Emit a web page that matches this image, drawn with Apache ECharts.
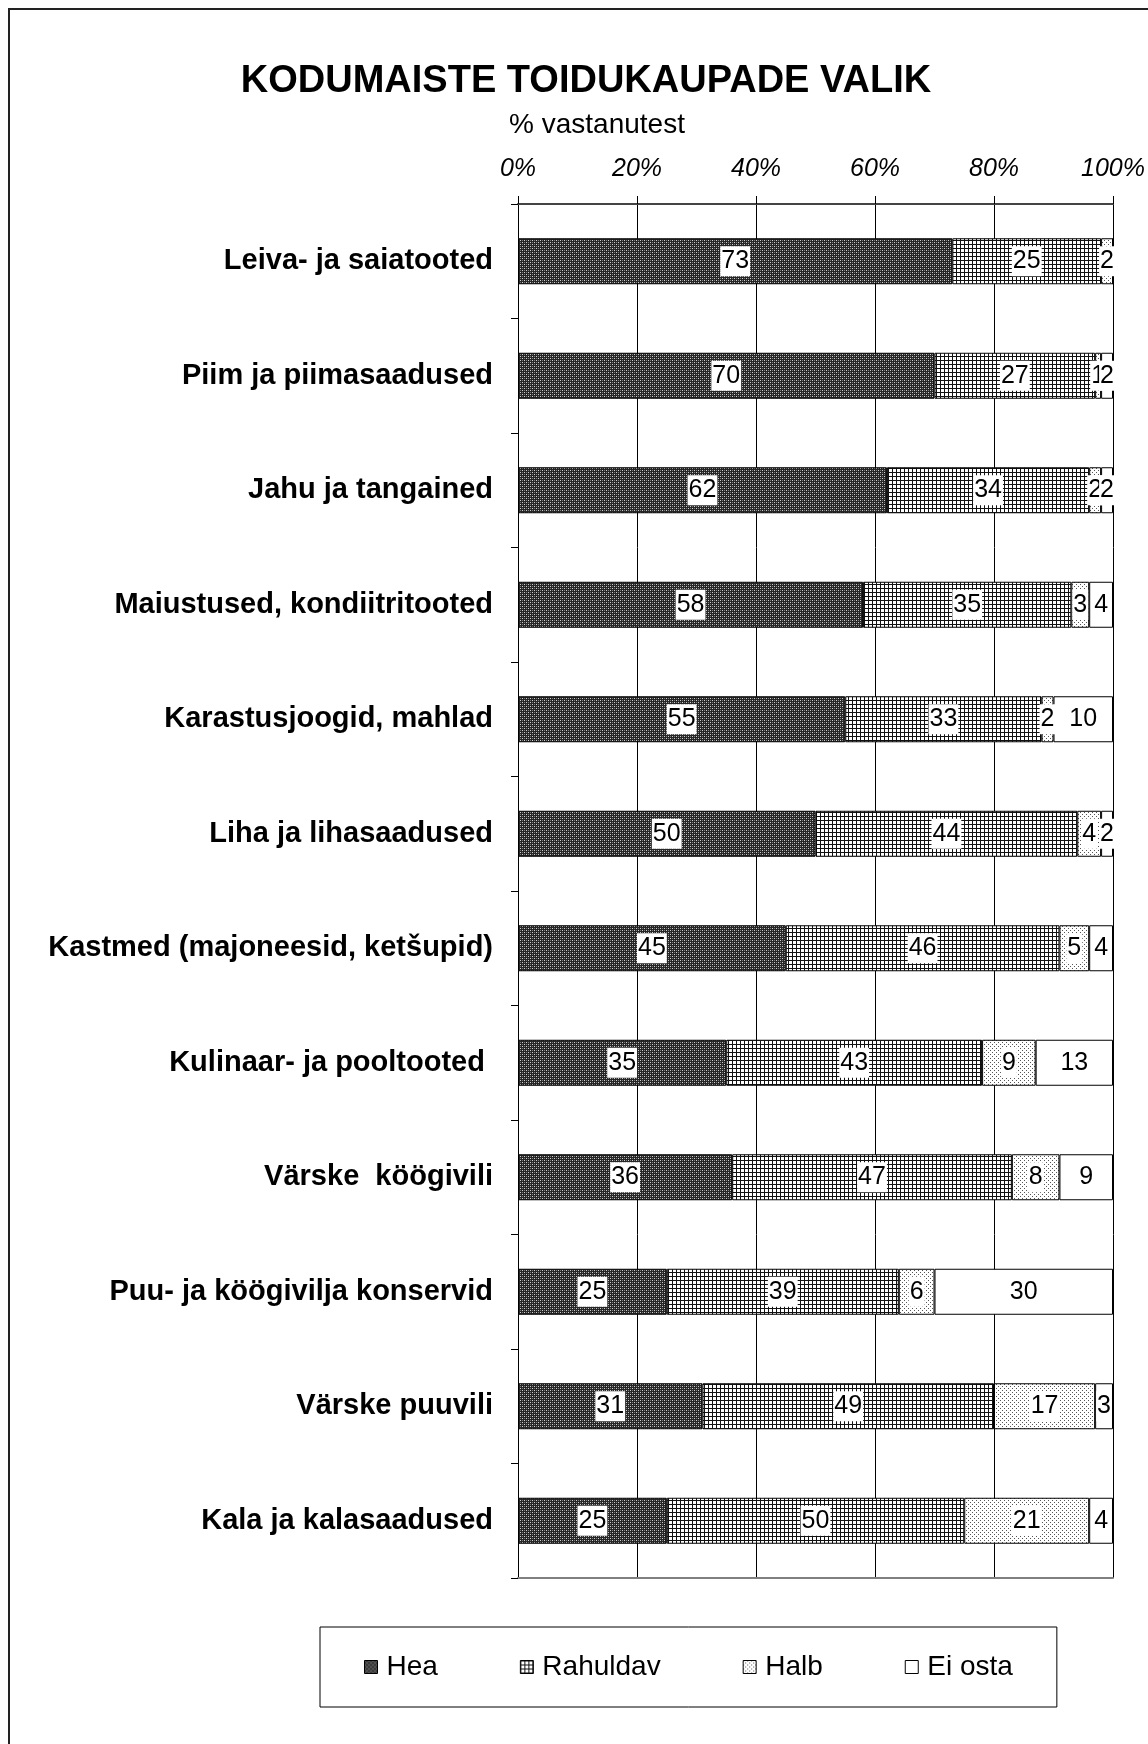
<!DOCTYPE html>
<html>
<head>
<meta charset="utf-8">
<script src="https://cdn.jsdelivr.net/npm/echarts@6/dist/echarts.min.js"></script>
<style>
html,body{margin:0;padding:0;background:#fff;}
#chart{width:1148px;height:1744px;}
</style>
</head>
<body>
<div id="chart"></div>
<script>
// ---- data ----
const categories = [
  'Leiva- ja saiatooted',
  'Piim ja piimasaadused',
  'Jahu ja tangained',
  'Maiustused, kondiitritooted',
  'Karastusjoogid, mahlad',
  'Liha ja lihasaadused',
  'Kastmed (majoneesid, ketšupid)',
  'Kulinaar- ja pooltooted ',
  'Värske  köögivili',
  'Puu- ja köögivilja konservid',
  'Värske puuvili',
  'Kala ja kalasaadused'
];
const hea      = [73, 70, 62, 58, 55, 50, 45, 35, 36, 25, 31, 25];
const rahuldav = [25, 27, 34, 35, 33, 44, 46, 43, 47, 39, 49, 50];
const halb     = [2, 1, 2, 3, 2, 4, 5, 9, 8, 6, 17, 21];
const eiOsta   = [0, 2, 2, 4, 10, 2, 4, 13, 9, 30, 3, 4];
const seriesNames = ['Hea', 'Rahuldav', 'Halb', 'Ei osta'];
const xTickLabels = ['0%', '20%', '40%', '60%', '80%', '100%'];
const titleText = 'KODUMAISTE TOIDUKAUPADE VALIK';
const subtitleText = '% vastanutest';

// ---- patterns ----
function makePattern(size, draw) {
  const c = document.createElement('canvas');
  c.width = size; c.height = size;
  const ctx = c.getContext('2d');
  draw(ctx);
  return { image: c, repeat: 'repeat' };
}
function px(ctx, x, y, col) { ctx.fillStyle = col; ctx.fillRect(x, y, 1, 1); }

const patHea = makePattern(4, ctx => {
  ctx.fillStyle = '#262626'; ctx.fillRect(0, 0, 4, 4);
  px(ctx, 0, 0, '#cfcfcf'); px(ctx, 2, 2, '#cfcfcf');
  px(ctx, 0, 2, '#7c7c7c'); px(ctx, 2, 0, '#7c7c7c');
});
const patRahuldav = makePattern(4, ctx => {
  ctx.fillStyle = '#ffffff'; ctx.fillRect(0, 0, 4, 4);
  ctx.fillStyle = '#111111';
  ctx.fillRect(0, 0, 4, 1);
  ctx.fillRect(0, 0, 1, 4);
});
const patHalb = makePattern(4, ctx => {
  ctx.fillStyle = '#ffffff'; ctx.fillRect(0, 0, 4, 4);
  px(ctx, 0, 0, '#555555'); px(ctx, 2, 2, '#555555');
});
const fills = [patHea, patRahuldav, patHalb, '#ffffff'];
const values = [hea, rahuldav, halb, eiOsta];

const FONT = "'Liberation Sans', Arial, Helvetica, sans-serif";

const series = seriesNames.map((name, i) => ({
  name: name,
  type: 'bar',
  stack: 'total',
  barWidth: 46,
  xAxisIndex: 0,
  itemStyle: { color: fills[i], borderColor: '#000', borderWidth: 1 },
  label: {
    show: true,
    position: 'inside',
    color: '#000',
    fontSize: 25,
    fontFamily: FONT,
    backgroundColor: '#fff',
    padding: [2, 1, 0, 1],
    lineHeight: 28
  },
  emphasis: { disabled: true },
  data: values[i].map(v => v === 0 ? { value: v, label: { show: false } } : v)
}));

const chart = echarts.init(document.getElementById('chart'), null, { renderer: 'canvas' });
chart.setOption({
  animation: false,
  backgroundColor: '#fff',
  textStyle: { fontFamily: FONT },
  title: [
    {
      text: titleText, left: 586, top: 63, textAlign: 'center', padding: 0,
      textStyle: { fontSize: 38, fontWeight: 'bold', color: '#000', fontFamily: FONT }
    },
    {
      text: subtitleText, left: 597, top: 111, textAlign: 'center', padding: 0,
      textStyle: { fontSize: 28, fontWeight: 'normal', color: '#000', fontFamily: FONT }
    }
  ],
  legend: {
    data: seriesNames,
    left: 320, top: 1627,
    orient: 'horizontal',
    padding: [26, 44],
    itemGap: 82,
    itemWidth: 13, itemHeight: 13,
    icon: 'rect',
    borderColor: '#000', borderWidth: 1,
    itemStyle: { borderColor: '#000', borderWidth: 1 },
    textStyle: { fontSize: 28, color: '#000', fontFamily: FONT, padding: [0, 0, 0, 4] }
  },
  grid: { left: 518, right: 35, top: 204, bottom: 166, containLabel: false },
  xAxis: [
    {
      type: 'value', position: 'top', min: 0, max: 100, interval: 20,
      axisLine: { show: true, lineStyle: { color: '#444', width: 2 } },
      axisTick: { show: true, length: 8, lineStyle: { color: '#000', width: 1 } },
      splitLine: { show: true, lineStyle: { color: '#000', width: 1 } },
      axisLabel: {
        fontSize: 25, fontStyle: 'italic', color: '#000', margin: 22, fontFamily: FONT,
        formatter: v => xTickLabels[Math.round(v / 20)]
      }
    },
    {
      type: 'value', position: 'bottom', min: 0, max: 100,
      axisLine: { show: true, lineStyle: { color: '#808080', width: 2 } },
      axisTick: { show: false }, axisLabel: { show: false }, splitLine: { show: false }
    }
  ],
  yAxis: {
    type: 'category', data: categories, inverse: true,
    axisLine: { show: true, lineStyle: { color: '#000', width: 1 } },
    axisTick: { show: true, length: 7, lineStyle: { color: '#000' } },
    axisLabel: {
      interval: 0, fontSize: 29, fontWeight: 'bold', color: '#000', margin: 25, fontFamily: FONT,
      padding: [4, 0, 0, 0]
    }
  },
  graphic: [
    {
      type: 'rect', silent: true, z: -10,
      shape: { x: 9, y: 9, width: 1170, height: 1800 },
      style: { fill: 'none', stroke: '#222', lineWidth: 2 }
    }
  ],
  series: series
});
</script>
</body>
</html>
